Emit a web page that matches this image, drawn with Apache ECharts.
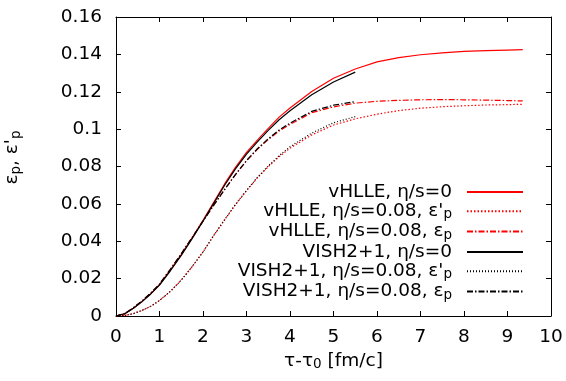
<!DOCTYPE html>
<html>
<head>
<meta charset="utf-8">
<script src="https://cdn.jsdelivr.net/npm/echarts@6/dist/echarts.min.js"></script>
<style>html,body{margin:0;padding:0;background:#fff}#c{width:566px;height:381px}</style>
</head>
<body>
<div id="c"></div>
<script>
// tau - tau0 grids [fm/c]
const tauVHLLE = [0,0.2,0.4,0.6,0.8,1.0,1.25,1.5,1.75,2.0,2.25,2.5,2.75,3.0,3.25,3.5,3.75,4.0,4.5,5.0,5.5,6.0,6.5,7.0,7.5,8.0,8.5,9.0,9.35];
const tauVISH  = [0,0.2,0.4,0.6,0.8,1.0,1.25,1.5,1.75,2.0,2.25,2.5,2.75,3.0,3.25,3.5,3.75,4.0,4.5,5.0,5.5];

const vhlleIdeal   = [0,0.0012,0.0042,0.0078,0.0120,0.0168,0.0246,0.0328,0.0418,0.0512,0.0610,0.0708,0.0797,0.0876,0.0941,0.1004,0.1064,0.1113,0.1201,0.1272,0.1322,0.1360,0.1383,0.1398,0.1408,0.1416,0.1420,0.1423,0.1425];
const vhlleEpsPrime= [0,0.0003,0.0013,0.003,0.0052,0.0083,0.0132,0.0192,0.0264,0.0343,0.0432,0.0516,0.0597,0.0670,0.0739,0.0799,0.0852,0.0898,0.0969,0.1022,0.1055,0.1080,0.1099,0.1112,0.1120,0.1125,0.1129,0.1131,0.1133];
const vhlleEps     = [0,0.0013,0.0044,0.0081,0.0123,0.0171,0.0250,0.0333,0.0420,0.0508,0.0594,0.0678,0.0758,0.0830,0.0892,0.0944,0.0990,0.1025,0.1088,0.1119,0.1139,0.1149,0.1154,0.1157,0.1158,0.1157,0.1155,0.1153,0.1151];
const vishIdeal    = [0,0.0012,0.0041,0.0077,0.0118,0.0165,0.0242,0.0324,0.0414,0.0507,0.0604,0.0701,0.0789,0.0866,0.0932,0.0993,0.1050,0.1098,0.1184,0.1252,0.1305];
const vishEpsPrime = [0,0.0003,0.0013,0.003,0.0052,0.0083,0.0132,0.0192,0.0264,0.0343,0.0432,0.0516,0.0598,0.0672,0.0742,0.0803,0.0858,0.0906,0.0979,0.1034,0.1067];
const vishEps      = [0,0.0013,0.0044,0.0081,0.0123,0.0171,0.0250,0.0333,0.0420,0.0508,0.0594,0.0678,0.0758,0.0832,0.0895,0.0948,0.0995,0.1032,0.1095,0.1128,0.1147];

const seriesNames = ['vHLLE, η/s=0', "vHLLE, η/s=0.08, ε'p", 'vHLLE, η/s=0.08, εp', 'VISH2+1, η/s=0', "VISH2+1, η/s=0.08, ε'p", 'VISH2+1, η/s=0.08, εp'];
const legendRich = ['{m|vHLLE, η/s=0}', "{m|vHLLE, η/s=0.08, ε'}{s|p}", '{m|vHLLE, η/s=0.08, ε}{s|p}', '{m|VISH2+1, η/s=0}', "{m|VISH2+1, η/s=0.08, ε'}{s|p}", '{m|VISH2+1, η/s=0.08, ε}{s|p}'];
const xTickLabels = ['0','1','2','3','4','5','6','7','8','9','10'];
const yTickLabels = ['0','0.02','0.04','0.06','0.08','0.1','0.12','0.14','0.16'];

const FONT = 'DejaVu Sans';
const FS = 18.5;
const rich = {
  m: {fontFamily: FONT, fontSize: FS, color: '#000', lineHeight: 21},
  s: {fontFamily: FONT, fontSize: 13.5, color: '#000', lineHeight: 4, verticalAlign: 'bottom'}
};

const zip = (xs, ys) => ys.map((v, i) => [xs[i], v]);
const RED = '#ff0000', BLK = '#000000';
const styles = [
  {c: RED, t: 'solid'},
  {c: RED, t: [1.5, 2]},
  {c: RED, t: [6, 2, 1.5, 2]},
  {c: BLK, t: 'solid'},
  {c: BLK, t: [1, 2]},
  {c: BLK, t: [6, 2, 1.5, 2]}
];
const datas = [
  zip(tauVHLLE, vhlleIdeal), zip(tauVHLLE, vhlleEpsPrime), zip(tauVHLLE, vhlleEps),
  zip(tauVISH, vishIdeal), zip(tauVISH, vishEpsPrime), zip(tauVISH, vishEps)
];

const axisCommon = {
  axisLine: {show: true, onZero: false, lineStyle: {color: '#000', width: 1}},
  axisTick: {show: true, inside: true, length: 5, lineStyle: {color: '#000', width: 1}},
  splitLine: {show: false}
};

const chart = echarts.init(document.getElementById('c'), null, {renderer: 'canvas'});
chart.setOption({
  animation: false,
  backgroundColor: '#fff',
  grid: {left: 116, right: 15, top: 17, bottom: 65, outerBoundsMode: 'none', containLabel: false},
  xAxis: [
    Object.assign({
      type: 'value', min: 0, max: 10, interval: 1, position: 'bottom',
      name: '{m|τ-τ}{s|0}{m| [fm/c]}', nameLocation: 'middle', nameGap: 32,
      nameTextStyle: {rich: rich},
      axisLabel: {margin: 12, fontFamily: FONT, fontSize: FS, color: '#000',
        formatter: v => xTickLabels[Math.round(v)]}
    }, axisCommon),
    Object.assign({
      type: 'value', min: 0, max: 10, interval: 1, position: 'top',
      axisLabel: {show: false}
    }, axisCommon)
  ],
  yAxis: [
    Object.assign({
      type: 'value', min: 0, max: 0.16, interval: 0.02, position: 'left',
      name: "{m|ε}{s|p}{m|, ε'}{s|p}", nameLocation: 'middle', nameGap: 93, nameRotate: 90,
      nameTextStyle: {rich: rich, padding: [0, 0, 0, 18]},
      axisLabel: {margin: 14, fontFamily: FONT, fontSize: FS, color: '#000',
        formatter: v => yTickLabels[Math.round(v / 0.02)]}
    }, axisCommon),
    Object.assign({
      type: 'value', min: 0, max: 0.16, interval: 0.02, position: 'right',
      axisLabel: {show: false}
    }, axisCommon)
  ],
  legend: {
    orient: 'vertical', align: 'right', right: 42, top: 182.5,
    itemWidth: 56, itemHeight: 14, itemGap: 0.3, padding: 0,
    data: seriesNames,
    itemStyle: {opacity: 0},
    formatter: name => legendRich[seriesNames.indexOf(name)],
    textStyle: {rich: rich, padding: [0, 10, 0, 0]}
  },
  series: seriesNames.map((n, i) => ({
    name: n, type: 'line', xAxisIndex: 0, yAxisIndex: 0,
    data: datas[i], symbol: 'none', showSymbol: false,
    smooth: false,
    lineStyle: {color: styles[i].c, type: styles[i].t, width: 1.2},
    itemStyle: {color: styles[i].c},
    emphasis: {disabled: true}
  }))
});
</script>
</body>
</html>
